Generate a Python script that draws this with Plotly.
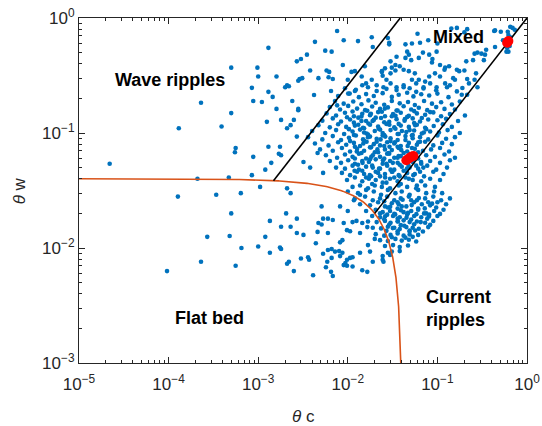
import numpy as np
import plotly.graph_objects as go

# ---------------- data ----------------
# sparse points outside the main cloud (theta_c, theta_w)
sparse_pts = [
    (1.3e-3, 0.55), (5.0e-4, 0.37), (9.8e-4, 0.37), (2.7e-3, 0.42), (3.0e-3, 0.44), (3.5e-3, 0.48),
    (4.3e-3, 0.62), (5.6e-3, 0.52), (6.6e-3, 0.51), (9.0e-3, 0.64), (1.3e-2, 0.63), (1.85e-2, 0.68),
    (7.6e-3, 0.77), (1.0e-3, 0.31), (1.6e-3, 0.31), (2.1e-3, 0.26), (2.2e-3, 0.255), (2.9e-3, 0.295),
    (2.8e-3, 0.285), (3.8e-3, 0.35), (8.5e-4, 0.247), (1.3e-3, 0.228), (8.8e-4, 0.19), (1.1e-3, 0.186),
    (1.45e-3, 0.206), (2.3e-4, 0.183), (5.0e-4, 0.149), (1.6e-3, 0.162), (2.8e-3, 0.162), (1.25e-3, 0.125),
    (1.8e-3, 0.13), (2.3e-3, 0.117), (2.1e-3, 0.11), (1.3e-4, 0.11), (3.9e-4, 0.114), (2.2e-5, 0.054),
    (5.6e-4, 0.074), (5.5e-4, 0.068), (8.8e-4, 0.062), (1.3e-3, 0.076), (1.75e-3, 0.076), (1.8e-3, 0.064),
    (1.7e-3, 0.066), (1.4e-3, 0.055), (8.5e-4, 0.043), (1.2e-3, 0.048), (4.7e-4, 0.041), (2.1e-4, 0.040),
    (1.27e-4, 0.028), (3.4e-4, 0.029), (6.4e-4, 0.030), (1.05e-3, 0.034), (2.1e-3, 0.033), (2.3e-3, 0.030),
    (5.0e-4, 0.020), (2.7e-4, 0.0125), (4.8e-4, 0.0127), (6.5e-4, 0.0100), (1.35e-3, 0.0172), (1.0e-3, 0.0103),
    (1.2e-3, 0.0125), (1.35e-3, 0.0091), (1.75e-3, 0.0101), (1.8e-3, 0.0098), (2.05e-3, 0.020), (1.8e-3, 0.0153),
    (2.3e-3, 0.0153), (2.7e-3, 0.018), (2.7e-3, 0.0135), (3.2e-3, 0.013), (3.0e-3, 0.0081), (3.6e-3, 0.0083),
    (3.7e-3, 0.0079), (2.5e-3, 0.0063), (2.2e-3, 0.0076), (2.1e-3, 0.0073), (2.3e-4, 0.0076), (5.6e-4, 0.0070),
    (9.6e-5, 0.0063), (4.1e-3, 0.0058), (4.4e-3, 0.0110), (4.7e-3, 0.0165), (5.3e-3, 0.018), (6.0e-3, 0.018),
    (6.8e-3, 0.0175), (4.6e-3, 0.0138), (5.9e-3, 0.0076), (6.5e-3, 0.0062), (6.8e-3, 0.0057), (5.7e-3, 0.0068),
    (5.3e-3, 0.0089), (6.0e-3, 0.0096), (6.6e-3, 0.0098), (8.2e-3, 0.0112), (8.7e-3, 0.0117), (8.0e-3, 0.0094),
    (8.7e-3, 0.0091), (9.0e-3, 0.0071), (9.4e-3, 0.0074), (9.8e-3, 0.0070), (1.13e-2, 0.0069), (9.8e-3, 0.0079),
    (1.06e-2, 0.0082), (1.13e-2, 0.0083), (1.37e-2, 0.0091), (1.65e-2, 0.0062), (1.13e-2, 0.0168), (1.45e-2, 0.0165),
    (1.65e-2, 0.0152), (9.0e-3, 0.0165), (9.8e-3, 0.0143), (1.9e-2, 0.0076), (2.5e-2, 0.0076), (2.45e-2, 0.0079),
    (2.8e-2, 0.0091), (2.96e-2, 0.0087), (2.5e-3, 0.13), (2.7e-3, 0.093), (3.2e-3, 0.056), (3.8e-3, 0.050),
    (4.6e-3, 0.067), (5.3e-3, 0.045), (5.1e-3, 0.023), (5.1e-3, 0.016), (6.0e-3, 0.0135), (8.2e-3, 0.023),
    (1.0e-2, 0.021), (1.06e-2, 0.014), (7.2e-3, 0.0093), (8.2e-3, 0.0085), (6.6e-3, 0.0082), (1.45e-2, 0.0064),
    (1.37e-2, 0.029), (1.17e-2, 0.026), (1.25e-2, 0.0172), (1.37e-2, 0.0135), (1.68e-2, 0.0106), (1.77e-2, 0.0093),
    (2.0e-2, 0.012), (2.45e-2, 0.0085),
]

# upper part of the cloud (between and around the two black lines)
upper_pts = [
    (1.55e-2, 0.38), (1.2e-2, 0.345), (5.8e-3, 0.35), (6.2e-3, 0.34), (4.7e-3, 0.30), (6.1e-3, 0.305),
    (6.8e-3, 0.295), (1.0e-2, 0.29), (3.1e-3, 0.30), (2.0e-3, 0.25), (1.45e-2, 0.26), (2.4e-2, 0.345),
    (2.45e-2, 0.315), (2.7e-2, 0.29), (6.5e-3, 0.232), (4.2e-3, 0.214), (1.2e-2, 0.232), (1.05e-2, 0.22),
    (2.4e-3, 0.19), (2.8e-3, 0.158), (7.6e-3, 0.174),
    (0.143, 0.81), (0.165, 0.82), (0.215, 0.80), (0.20, 0.75), (0.060, 0.73), (0.044, 0.59), (0.052, 0.60),
    (0.064, 0.61), (0.079, 0.64), (0.10, 0.60), (0.43, 0.77), (0.51, 0.76), (0.61, 0.76), (0.69, 0.82),
    (0.62, 0.71), (0.65, 0.68), (0.59, 0.51), (0.62, 0.51), (0.098, 0.51), (0.028, 0.67), (0.029, 0.61),
    (0.046, 0.51), (0.048, 0.48), (0.044, 0.45), (0.051, 0.43), (0.062, 0.45), (0.069, 0.50), (0.081, 0.48),
    (0.088, 0.44), (0.087, 0.41), (0.107, 0.39), (0.122, 0.37), (0.12, 0.355), (0.135, 0.38), (0.21, 0.42),
    (0.25, 0.43), (0.33, 0.43), (0.28, 0.50), (0.34, 0.48), (0.165, 0.355), (0.175, 0.345), (0.20, 0.35),
    (0.15, 0.30), (0.157, 0.29), (0.215, 0.295), (0.26, 0.29), (0.27, 0.33),
    (0.030, 0.42), (0.031, 0.37), (0.030, 0.33), (0.034, 0.39), (0.038, 0.38), (0.042, 0.355), (0.048, 0.345),
    (0.056, 0.33), (0.052, 0.29), (0.062, 0.29), (0.073, 0.28), (0.081, 0.31), (0.094, 0.33), (0.107, 0.31),
    (0.122, 0.27), (0.138, 0.26), (0.19, 0.246), (0.215, 0.215),
    (0.019, 0.56), (0.029, 0.59), (0.035, 0.46), (0.024, 0.34), (0.026, 0.365), (0.034, 0.35), (8.8e-3, 0.39),
    (0.011, 0.34), (0.0143, 0.31),
    (0.016, 0.27), (0.0185, 0.29), (0.021, 0.26), (0.025, 0.25), (0.030, 0.27), (0.035, 0.25), (0.042, 0.26),
    (0.049, 0.245), (0.058, 0.27), (0.07, 0.25), (0.083, 0.27), (0.098, 0.25),
    (0.225, 0.27), (0.28, 0.25), (0.26, 0.49), (0.35, 0.53), (0.44, 0.56), (0.54, 0.64), (0.65, 0.84),
    (0.73, 0.79), (0.44, 0.78), (0.31, 0.49), (0.60, 0.55), (0.64, 0.57),
]

# band of the cloud, theta_w about 0.1 - 0.25
band_c = [
    9.3e-3, 0.0123, 0.0168, 0.021, 0.027, 0.035, 0.042, 0.058, 0.070, 0.097, 0.128, 0.165,
    7.8e-3, 0.0101, 0.0133, 0.016, 0.0195, 0.0245, 0.031, 0.037, 0.046, 0.054, 0.066, 0.081, 0.10, 0.133, 0.187,
    7.2e-3, 9.0e-3, 0.0115, 0.0142, 0.017, 0.0205, 0.0255, 0.031, 0.038, 0.047, 0.056, 0.071, 0.087, 0.11, 0.145, 0.178,
    6.3e-3, 8.2e-3, 0.0101, 0.0127, 0.0156, 0.0187, 0.0229, 0.028, 0.035, 0.042, 0.051, 0.062, 0.077, 0.097, 0.12, 0.157,
    5.8e-3, 7.4e-3, 9.3e-3, 0.0117, 0.0145, 0.0177, 0.0218, 0.026, 0.032, 0.039, 0.048, 0.059, 0.073, 0.090, 0.11, 0.138, 0.203,
    5.2e-3, 6.8e-3, 8.4e-3, 0.0106, 0.0131, 0.016, 0.0195, 0.0235, 0.029, 0.035, 0.043, 0.053, 0.064, 0.079, 0.10, 0.125, 0.17,
    4.7e-3, 6.3e-3, 7.8e-3, 9.6e-3, 0.012, 0.0148, 0.0177, 0.0218, 0.027, 0.033, 0.039, 0.048, 0.059, 0.073, 0.091, 0.115, 0.145,
    4.0e-3, 5.6e-3, 7.4e-3, 9.1e-3, 0.0113, 0.0137, 0.0162, 0.020, 0.0245, 0.030, 0.037, 0.045, 0.055, 0.067, 0.083, 0.104, 0.13, 0.178,
]
band_w = [
    0.245, 0.238, 0.25, 0.232, 0.242, 0.236, 0.25, 0.228, 0.244, 0.235, 0.25, 0.23,
    0.21, 0.22, 0.205, 0.218, 0.21, 0.222, 0.206, 0.215, 0.224, 0.208, 0.217, 0.212, 0.22, 0.205, 0.215,
    0.19, 0.18, 0.188, 0.178, 0.192, 0.183, 0.176, 0.19, 0.181, 0.186, 0.175, 0.19, 0.18, 0.185, 0.177, 0.188,
    0.168, 0.16, 0.172, 0.163, 0.158, 0.17, 0.162, 0.167, 0.157, 0.171, 0.16, 0.166, 0.158, 0.168, 0.162, 0.16,
    0.148, 0.142, 0.15, 0.14, 0.147, 0.143, 0.152, 0.14, 0.146, 0.15, 0.141, 0.148, 0.144, 0.151, 0.14, 0.146, 0.142,
    0.128, 0.134, 0.126, 0.131, 0.136, 0.127, 0.13, 0.135, 0.125, 0.132, 0.128, 0.134, 0.126, 0.131, 0.129, 0.133, 0.127,
    0.117, 0.112, 0.119, 0.113, 0.116, 0.111, 0.118, 0.114, 0.12, 0.112, 0.116, 0.113, 0.118, 0.111, 0.115, 0.119, 0.113,
    0.104, 0.1, 0.106, 0.098, 0.103, 0.107, 0.099, 0.104, 0.1, 0.106, 0.098, 0.102, 0.105, 0.099, 0.103, 0.101, 0.106, 0.1,
]

# dense core, theta_w about 0.03 - 0.1
core_c = [
    3.6e-3, 5.2e-3, 6.8e-3, 8.4e-3, 0.0103, 0.0123, 0.0148, 0.0177, 0.021, 0.0255, 0.030, 0.036, 0.044, 0.053, 0.064, 0.079, 0.10, 0.125, 0.157,
    4.3e-3, 6.1e-3, 7.8e-3, 9.6e-3, 0.0117, 0.0137, 0.0162, 0.0195, 0.0229, 0.0275, 0.033, 0.039, 0.048, 0.059, 0.073, 0.09, 0.113, 0.145,
    4.9e-3, 6.8e-3, 8.6e-3, 0.0106, 0.0127, 0.0152, 0.0182, 0.0218, 0.026, 0.031, 0.037, 0.046, 0.056, 0.069, 0.085, 0.107, 0.135,
    5.7e-3, 7.6e-3, 9.3e-3, 0.0113, 0.0133, 0.016, 0.019, 0.0229, 0.0275, 0.033, 0.039, 0.049, 0.061, 0.075, 0.094, 0.12, 0.157,
    6.3e-3, 8.4e-3, 0.0101, 0.012, 0.0145, 0.0172, 0.0205, 0.0245, 0.0296, 0.036, 0.044, 0.053, 0.066, 0.083, 0.107, 0.138,
    7.4e-3, 9.3e-3, 0.0113, 0.0133, 0.016, 0.019, 0.0229, 0.0275, 0.033, 0.040, 0.049, 0.061, 0.077, 0.097, 0.128,
    8.6e-3, 0.0106, 0.0127, 0.0152, 0.0182, 0.0218, 0.026, 0.031, 0.037, 0.046, 0.056, 0.071, 0.09, 0.117,
    9.8e-3, 0.012, 0.0145, 0.0172, 0.0205, 0.0245, 0.0296, 0.036, 0.044, 0.053, 0.066, 0.083, 0.107,
    0.0113, 0.0137, 0.0168, 0.020, 0.024, 0.0296, 0.037, 0.046, 0.058, 0.073, 0.094,
    0.0113, 0.0165, 0.024, 0.036, 0.055, 0.083,
    0.0098, 0.0142, 0.0205, 0.031, 0.046, 0.067,
    0.0117, 0.017, 0.0255, 0.037, 0.055,
    0.0103, 0.0152, 0.0229, 0.034, 0.049, 0.075,
    0.0117, 0.0168, 0.0245, 0.036, 0.053,
    0.0106, 0.0152, 0.021, 0.030, 0.044, 0.064,
    0.012, 0.0177, 0.0255, 0.036, 0.052,
    0.0142, 0.020, 0.029, 0.042, 0.061,
    0.012, 0.0177, 0.0255, 0.036, 0.053,
    0.013, 0.0187, 0.027, 0.038, 0.058,
    0.0145, 0.0205, 0.030, 0.042, 0.064,
    0.016, 0.0229, 0.033, 0.048,
    0.0187, 0.027, 0.039, 0.059,
]
core_w = [
    0.092, 0.088, 0.094, 0.087, 0.091, 0.095, 0.088, 0.093, 0.089, 0.096, 0.09, 0.087, 0.094, 0.09, 0.092, 0.088, 0.095, 0.089, 0.092,
    0.081, 0.078, 0.083, 0.079, 0.082, 0.077, 0.084, 0.08, 0.078, 0.083, 0.081, 0.077, 0.082, 0.079, 0.084, 0.078, 0.082, 0.08,
    0.072, 0.07, 0.074, 0.069, 0.073, 0.07, 0.075, 0.068, 0.072, 0.071, 0.074, 0.069, 0.073, 0.07, 0.072, 0.074, 0.069,
    0.064, 0.061, 0.065, 0.062, 0.066, 0.06, 0.064, 0.062, 0.066, 0.061, 0.063, 0.065, 0.06, 0.064, 0.062, 0.065, 0.061,
    0.057, 0.055, 0.058, 0.054, 0.057, 0.056, 0.059, 0.054, 0.057, 0.055, 0.058, 0.056, 0.054, 0.057, 0.055, 0.058,
    0.05, 0.049, 0.052, 0.048, 0.051, 0.05, 0.049, 0.052, 0.048, 0.051, 0.05, 0.049, 0.052, 0.048, 0.05,
    0.045, 0.043, 0.046, 0.044, 0.042, 0.045, 0.044, 0.046, 0.043, 0.045, 0.044, 0.042, 0.046, 0.044,
    0.039, 0.041, 0.038, 0.04, 0.039, 0.037, 0.04, 0.038, 0.041, 0.039, 0.038, 0.04, 0.039,
    0.034, 0.035, 0.033, 0.035, 0.034, 0.033, 0.035, 0.034, 0.033, 0.035, 0.034,
    0.154, 0.156, 0.153, 0.157, 0.155, 0.152,
    0.137, 0.139, 0.136, 0.14, 0.138, 0.135,
    0.123, 0.121, 0.124, 0.12, 0.122,
    0.108, 0.11, 0.107, 0.109, 0.106, 0.108,
    0.096, 0.097, 0.095, 0.098, 0.096,
    0.085, 0.086, 0.084, 0.085, 0.087, 0.084,
    0.076, 0.075, 0.077, 0.076, 0.074,
    0.067, 0.068, 0.066, 0.067, 0.068,
    0.06, 0.059, 0.06, 0.061, 0.059,
    0.053, 0.052, 0.054, 0.053, 0.052,
    0.047, 0.046, 0.048, 0.047, 0.046,
    0.041, 0.042, 0.041, 0.04,
    0.036, 0.037, 0.036, 0.035,
]

# extra points filling the densest parts of the cloud
dense_pts = [
    (0.0131, 0.118), (0.0152, 0.101), (0.0189, 0.127), (0.0221, 0.109), (0.0262, 0.093), (0.0291, 0.118),
    (0.0335, 0.083), (0.0402, 0.104), (0.0466, 0.077), (0.0519, 0.095), (0.0612, 0.083), (0.0705, 0.101),
    (0.0126, 0.069), (0.0149, 0.081), (0.0183, 0.062), (0.0214, 0.072), (0.0247, 0.058), (0.0283, 0.067),
    (0.0318, 0.055), (0.0369, 0.063), (0.0431, 0.057), (0.0477, 0.052), (0.0561, 0.061), (0.0658, 0.056),
    (0.0119, 0.047), (0.0146, 0.055), (0.0176, 0.043), (0.0223, 0.049), (0.0261, 0.041), (0.0315, 0.046),
    (0.0379, 0.042), (0.0458, 0.049), (0.0539, 0.043), (0.0697, 0.050), (0.0341, 0.141), (0.0259, 0.163),
    (0.0433, 0.132), (0.0181, 0.147), (0.0565, 0.117), (0.0142, 0.127), (0.0292, 0.076), (0.0395, 0.071),
    (0.0232, 0.088), (0.0168, 0.092),
    (0.0297, 0.0228), (0.0338, 0.0196), (0.0391, 0.0213), (0.0452, 0.0183), (0.0517, 0.0236), (0.0583, 0.0197),
    (0.0651, 0.0168), (0.0723, 0.0221), (0.0427, 0.0156), (0.0489, 0.0139), (0.0362, 0.0171), (0.0318, 0.0149),
    (0.0565, 0.0142), (0.0805, 0.0188), (0.0872, 0.0243), (0.0261, 0.0189), (0.0409, 0.0263), (0.0621, 0.0272),
]

# lower cluster near the flat-bed threshold, theta_w about 0.009 - 0.032
lower_c = [
    0.010, 0.013, 0.016, 0.0195, 0.0235, 0.028, 0.034, 0.040, 0.049, 0.061, 0.075, 0.092, 0.113,
    0.012, 0.0156, 0.019, 0.0229, 0.0275, 0.033, 0.039, 0.048, 0.059, 0.073, 0.09, 0.11, 0.138,
    0.0137, 0.0177, 0.0218, 0.026, 0.031, 0.037, 0.045, 0.055, 0.067, 0.083, 0.10, 0.125,
    0.016, 0.0205, 0.0245, 0.0296, 0.036, 0.042, 0.051, 0.061, 0.075, 0.092, 0.117,
    0.0187, 0.0229, 0.0275, 0.032, 0.038, 0.046, 0.055, 0.066, 0.081, 0.10,
    0.0168, 0.021, 0.026, 0.030, 0.036, 0.042, 0.049, 0.059, 0.073, 0.09,
    0.019, 0.0235, 0.028, 0.033, 0.038, 0.045, 0.053, 0.062, 0.079,
    0.0205, 0.0255, 0.030, 0.036, 0.042, 0.049, 0.061,
    0.0229, 0.028, 0.034, 0.040, 0.048, 0.058,
    0.026, 0.032, 0.038, 0.047,
    0.031, 0.038,
    0.0255, 0.036, 0.051, 0.079,
    0.028, 0.040, 0.061, 0.097,
    0.0229, 0.033, 0.047, 0.071, 0.107,
    0.0255, 0.036, 0.051, 0.077,
    0.029, 0.039, 0.055, 0.083,
    0.027, 0.036, 0.049, 0.069,
    0.031, 0.044, 0.053,
]
lower_w = [
    0.031, 0.03, 0.032, 0.031, 0.029, 0.032, 0.03, 0.031, 0.029, 0.032, 0.03, 0.031, 0.03,
    0.027, 0.028, 0.026, 0.027, 0.028, 0.026, 0.027, 0.028, 0.026, 0.027, 0.028, 0.026, 0.027,
    0.024, 0.0235, 0.025, 0.023, 0.0245, 0.024, 0.023, 0.025, 0.024, 0.0235, 0.025, 0.024,
    0.021, 0.0215, 0.0205, 0.021, 0.022, 0.0205, 0.021, 0.0215, 0.02, 0.021, 0.0215,
    0.019, 0.0185, 0.0195, 0.019, 0.0185, 0.0195, 0.019, 0.0185, 0.0195, 0.019,
    0.017, 0.0168, 0.0172, 0.0166, 0.017, 0.0174, 0.0168, 0.017, 0.0166, 0.0172,
    0.015, 0.0148, 0.0153, 0.015, 0.0146, 0.0152, 0.015, 0.0147, 0.0152,
    0.0132, 0.0128, 0.013, 0.0134, 0.0128, 0.0131, 0.013,
    0.0117, 0.0115, 0.012, 0.0116, 0.0118, 0.0114,
    0.0104, 0.0106, 0.0102, 0.0105,
    0.0093, 0.0094,
    0.0255, 0.025, 0.026, 0.025,
    0.0225, 0.023, 0.022, 0.0225,
    0.02, 0.0198, 0.0202, 0.02, 0.0198,
    0.0178, 0.018, 0.0177, 0.018,
    0.016, 0.0158, 0.0161, 0.0159,
    0.0141, 0.014, 0.0142, 0.0139,
    0.0124, 0.0123, 0.0125,
]

# highlighted (red) observations
red_c = [0.045, 0.048, 0.051, 0.054, 0.60, 0.62]
red_w = [0.058, 0.060, 0.062, 0.063, 0.61, 0.63]

# regime boundaries
threshold = 0.04      # theta_c + theta_w = threshold (flat bed limit)
wave_ratio = 26.0     # theta_w / theta_c on the wave/mixed boundary
mixed_ratio = 1.0     # theta_w / theta_c on the mixed/current boundary

x_ticks = [1e-5, 1e-4, 1e-3, 1e-2, 1e-1, 1e0]
x_ticklabels = ["10<sup>−5</sup>", "10<sup>−4</sup>", "10<sup>−3</sup>", "10<sup>−2</sup>", "10<sup>−1</sup>", "10<sup>0</sup>"]
y_ticks = [1e-3, 1e-2, 1e-1, 1e0]
y_ticklabels = ["10<sup>−3</sup>", "10<sup>−2</sup>", "10<sup>−1</sup>", "10<sup>0</sup>"]

# ---------------- build figure ----------------
all_c = ([p[0] for p in sparse_pts] + [p[0] for p in upper_pts] + band_c + core_c
         + [p[0] for p in dense_pts] + lower_c)
all_w = ([p[1] for p in sparse_pts] + [p[1] for p in upper_pts] + band_w + core_w
         + [p[1] for p in dense_pts] + lower_w)

blue = "#0072BD"
orange = "#D95319"
axis_col = "#262626"
font_fam = "Liberation Sans, Arial, sans-serif"

fig = go.Figure()
fig.add_trace(go.Scatter(x=all_c, y=all_w, mode="markers",
                         marker=dict(color=blue, size=4.6, line=dict(width=0)),
                         showlegend=False, hoverinfo="x+y"))

# threshold curve
xa = np.geomspace(1e-5, threshold / 2, 250)
ya = np.geomspace(threshold / 2, 1e-3, 250)
curve_c = np.concatenate([xa, threshold - ya])
curve_w = np.concatenate([threshold - xa, ya])
fig.add_trace(go.Scatter(x=curve_c, y=curve_w, mode="lines",
                         line=dict(color=orange, width=1.6), showlegend=False, hoverinfo="skip"))

# boundary lines, from the threshold curve to the top of the axes
for k in (wave_ratio, mixed_ratio):
    x0 = threshold / (1 + k)
    fig.add_trace(go.Scatter(x=[x0, 1.0 / k], y=[k * x0, 1.0], mode="lines",
                             line=dict(color="black", width=1.6), showlegend=False, hoverinfo="skip"))

fig.add_trace(go.Scatter(x=red_c, y=red_w, mode="markers",
                         marker=dict(color="#FF0000", size=10, line=dict(width=0)),
                         showlegend=False))

ann_font = dict(family=font_fam, size=18, color="black")
annots = [
    dict(x=np.log10(1.03e-4), y=np.log10(0.29), text="<b>Wave ripples</b>", xanchor="center"),
    dict(x=np.log10(0.174), y=np.log10(0.68), text="<b>Mixed</b>", xanchor="center"),
    dict(x=np.log10(2.86e-4), y=np.log10(2.46e-3), text="<b>Flat bed</b>", xanchor="center"),
    dict(x=np.log10(0.0708), y=np.log10(3.0e-3), text="<b>Current<br>ripples</b>", xanchor="left", align="left"),
]
for a in annots:
    fig.add_annotation(xref="x", yref="y", showarrow=False, yanchor="middle", font=ann_font, **a)

# axis titles
title_font = dict(family=font_fam, size=17, color=axis_col)
fig.add_annotation(xref="paper", yref="paper", x=0.5, y=-0.154, text="<i>θ</i> c",
                   showarrow=False, xanchor="center", yanchor="middle", font=title_font)
fig.add_annotation(xref="paper", yref="paper", x=-0.132, y=0.5, text="<i>θ</i> w", textangle=-90,
                   showarrow=False, xanchor="center", yanchor="middle", font=title_font)

minor_x = [m * 10.0 ** e for e in range(-5, 0) for m in range(2, 10)]
minor_y = [m * 10.0 ** e for e in range(-3, 0) for m in range(2, 10)]

axis_common = dict(type="log", showgrid=False, zeroline=False, showline=True, linecolor=axis_col,
                   linewidth=1, mirror="allticks", ticks="inside", ticklen=6, tickwidth=1,
                   tickcolor=axis_col, automargin=False, ticklabeloverflow="allow",
                   tickfont=dict(family=font_fam, size=17, color=axis_col))

fig.update_xaxes(range=[-5, 0], tickmode="array", tickvals=x_ticks, ticktext=x_ticklabels,
                 ticklabelstandoff=6,
                 minor=dict(tickmode="array", tickvals=minor_x, ticks="inside", ticklen=3, tickcolor=axis_col),
                 **axis_common)
fig.update_yaxes(range=[-3, 0], tickmode="array", tickvals=y_ticks, ticktext=y_ticklabels,
                 minor=dict(tickmode="array", tickvals=minor_y, ticks="inside", ticklen=3, tickcolor=axis_col),
                 **axis_common)

fig.update_layout(width=542, height=426, margin=dict(l=79, r=15, t=18, b=63),
                  plot_bgcolor="white", paper_bgcolor="white", showlegend=False)

# remove the default 8 px page margin so the figure sits at the window's corner
fig.write_html("out.html", config={"displayModeBar": False},
               post_script="document.body.style.margin='0';document.body.style.overflow='hidden';")
